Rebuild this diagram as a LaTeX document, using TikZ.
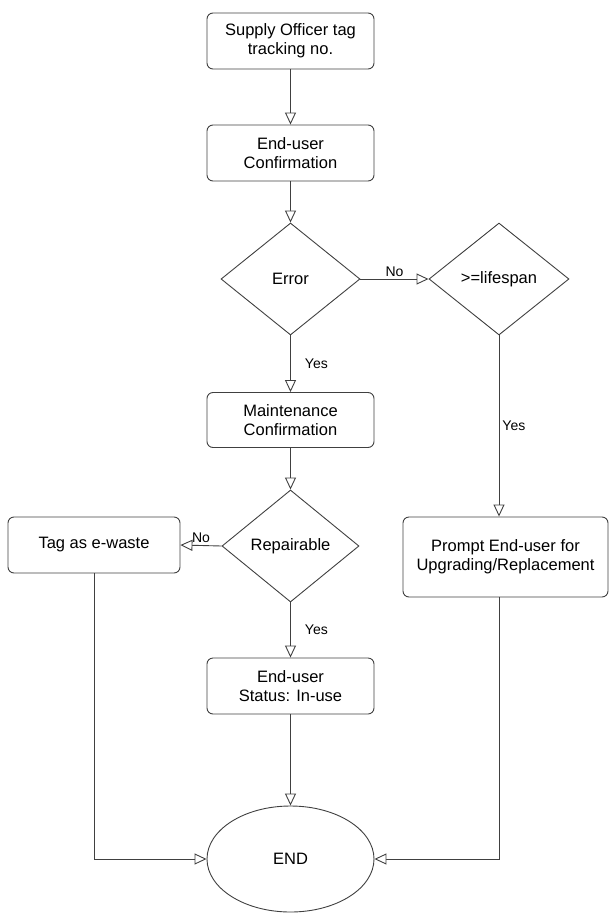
\documentclass[tikz,border=0pt]{standalone}
\usepackage{fontspec}
\setmainfont{Liberation Sans}
\usetikzlibrary{shapes.geometric,arrows.meta}

\begin{document}
\begin{tikzpicture}[x=1pt, y=-1pt,
		line width=0.9pt, draw=black!75,
		box/.style = {draw, rounded corners=6pt, align=center, minimum width=167pt, minimum height=56pt, inner sep=2pt, font=\fontsize{16.5}{19}\selectfont},
		decision/.style = {draw, diamond, minimum width=139pt, minimum height=112pt, inner sep=0pt, font=\fontsize{16.5}{19}\selectfont},
		term/.style = {draw, ellipse, minimum width=167pt, minimum height=106pt, font=\fontsize{16.5}{19}\selectfont},
		arr/.style = {-{Triangle[open, length=12pt, width=11pt, fill=white]}},
		lbl/.style = {font=\fontsize{14}{16}\selectfont, inner sep=2pt}]
		\useasboundingbox (0,0) rectangle (609,913);
		
		\coordinate (c0) at (290.5,41);
		\coordinate (c1) at (290.5,153);
		\coordinate (c2) at (290.5,279);
		\coordinate (c3) at (499,279);
		\coordinate (c4) at (290.5,420);
		\coordinate (c5) at (290.5,546);
		\coordinate (c6) at (94,545);
		\coordinate (c7) at (505.5,557);
		\coordinate (c8) at (290.5,686);
		\coordinate (c9) at (290.5,859);
		
		\node[box] (supply) at (c0) {Supply Officer tag\\tracking no.};
		\node[box] (euconf) at (c1) {End-user\\Confirmation};
		\node[decision] (error) at (c2) {Error};
		\node[decision, minimum width=140pt] (life) at (c3) {>=lifespan};
		\node[box, minimum height=55pt] (mconf) at (c4) {Maintenance\\Confirmation};
		\node[decision, minimum width=137pt] (repair) at (c5) {Repairable};
		\node[box, minimum width=172pt] (ewaste) at (c6) {Tag as e-waste};
		\node[box, minimum width=205pt, minimum height=80pt] (prompt) at (c7) {Prompt End-user for\\Upgrading/Replacement};
		\node[box] (inuse) at (c8) {End-user\\Status: In-use};
		\node[term] (end) at (c9) {END};
		
		\draw[arr] (supply) -- (euconf);
		\draw[arr] (euconf) -- (error);
		\draw[arr] (error.east) -- node[lbl, above] {No} (life.west);
		\draw[arr] (error.south) -- node[lbl, right=12pt] {Yes} (mconf.north);
		\draw[arr] (mconf) -- (repair.north);
		\draw[arr] (repair.west) -- node[lbl, above] {No} (ewaste.east);
		\draw[arr] (repair.south) -- node[lbl, right=12pt] {Yes} (inuse.north);
		\draw[arr] (life.south) -- node[lbl, right=1pt] {Yes} (life.south |- prompt.north);
		\draw[arr] (inuse) -- (end);
		\draw[arr] (ewaste.south) |- (end.west);
		\draw[arr] (prompt.south -| life.south) |- (end.east);
	\end{tikzpicture}
\end{document}
